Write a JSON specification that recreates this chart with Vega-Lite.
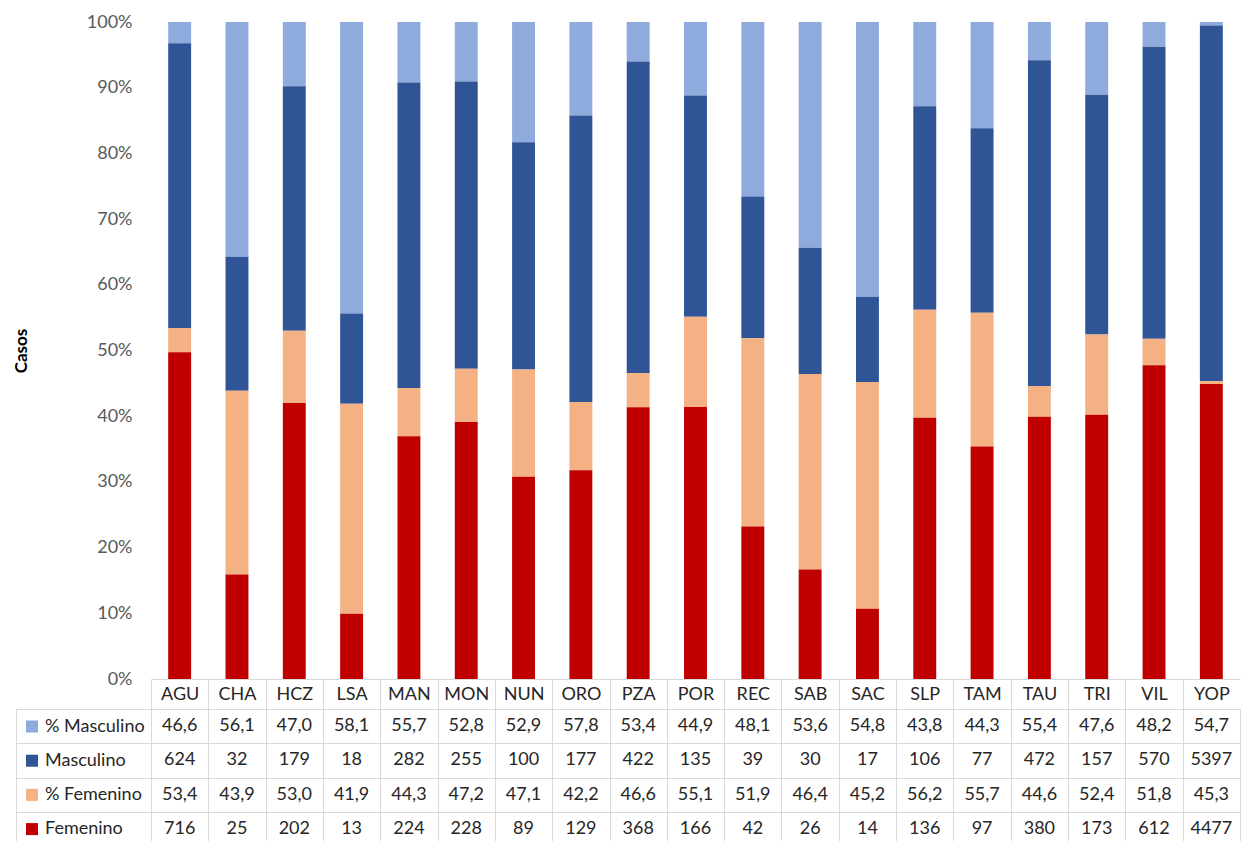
{
  "$schema": "https://vega.github.io/schema/vega-lite/v6.json",
  "background": "white",
  "padding": {"left": 12, "top": 13, "right": 0, "bottom": 0},
  "datasets": {
    "cases": [
      {"c": "AGU", "% Masculino": 46.6, "Masculino": 624, "% Femenino": 53.4, "Femenino": 716},
      {"c": "CHA", "% Masculino": 56.1, "Masculino": 32, "% Femenino": 43.9, "Femenino": 25},
      {"c": "HCZ", "% Masculino": 47.0, "Masculino": 179, "% Femenino": 53.0, "Femenino": 202},
      {"c": "LSA", "% Masculino": 58.1, "Masculino": 18, "% Femenino": 41.9, "Femenino": 13},
      {"c": "MAN", "% Masculino": 55.7, "Masculino": 282, "% Femenino": 44.3, "Femenino": 224},
      {"c": "MON", "% Masculino": 52.8, "Masculino": 255, "% Femenino": 47.2, "Femenino": 228},
      {"c": "NUN", "% Masculino": 52.9, "Masculino": 100, "% Femenino": 47.1, "Femenino": 89},
      {"c": "ORO", "% Masculino": 57.8, "Masculino": 177, "% Femenino": 42.2, "Femenino": 129},
      {"c": "PZA", "% Masculino": 53.4, "Masculino": 422, "% Femenino": 46.6, "Femenino": 368},
      {"c": "POR", "% Masculino": 44.9, "Masculino": 135, "% Femenino": 55.1, "Femenino": 166},
      {"c": "REC", "% Masculino": 48.1, "Masculino": 39, "% Femenino": 51.9, "Femenino": 42},
      {"c": "SAB", "% Masculino": 53.6, "Masculino": 30, "% Femenino": 46.4, "Femenino": 26},
      {"c": "SAC", "% Masculino": 54.8, "Masculino": 17, "% Femenino": 45.2, "Femenino": 14},
      {"c": "SLP", "% Masculino": 43.8, "Masculino": 106, "% Femenino": 56.2, "Femenino": 136},
      {"c": "TAM", "% Masculino": 44.3, "Masculino": 77, "% Femenino": 55.7, "Femenino": 97},
      {"c": "TAU", "% Masculino": 55.4, "Masculino": 472, "% Femenino": 44.6, "Femenino": 380},
      {"c": "TRI", "% Masculino": 47.6, "Masculino": 157, "% Femenino": 52.4, "Femenino": 173},
      {"c": "VIL", "% Masculino": 48.2, "Masculino": 570, "% Femenino": 51.8, "Femenino": 612},
      {"c": "YOP", "% Masculino": 54.7, "Masculino": 5397, "% Femenino": 45.3, "Femenino": 4477}
    ],
    "series": [
      {"s": "Femenino", "k": 1},
      {"s": "% Femenino", "k": 2},
      {"s": "Masculino", "k": 3},
      {"s": "% Masculino", "k": 4}
    ]
  },
  "data": {"name": "cases"},
  "transform": [
    {"fold": ["% Masculino", "Masculino", "% Femenino", "Femenino"], "as": ["s", "v"]},
    {"lookup": "s", "from": {"data": {"name": "series"}, "key": "s", "fields": ["k"]}}
  ],
  "bounds": "flush",
  "spacing": 30,
  "resolve": {"scale": {"x": "independent", "y": "independent", "color": "shared"}},
  "config": {
    "font": "Lato",
    "view": {"stroke": null},
    "locale": {"number": {"decimal": ",", "thousands": ".", "grouping": [3], "currency": ["", " €"]}}
  },
  "vconcat": [
    {
      "width": 1089,
      "height": 657,
      "mark": {"type": "bar"},
      "encoding": {
        "x": {
          "field": "c", "type": "nominal", "sort": null,
          "scale": {"paddingInner": 0.6, "paddingOuter": 0.3},
          "axis": {
            "title": null, "labelAngle": 0, "domainColor": "#d9d9d9", "tickColor": "#d9d9d9",
            "tickSize": 30, "tickOffset": -28.66, "labelOffset": 28.66, "labelPadding": -15,
            "labelBaseline": "middle", "labelFontSize": 18, "labelColor": "#262626"
          }
        },
        "y": {
          "field": "v", "type": "quantitative", "stack": "normalize",
          "axis": {
            "format": "%", "tickCount": 10, "grid": false, "domain": false, "ticks": false,
            "labelPadding": 19, "labelFontSize": 18, "labelColor": "#595959",
            "title": "Casos", "titleFontSize": 17, "titleFontWeight": "bold", "titleColor": "#000000", "titlePadding": 56
          }
        },
        "color": {
          "field": "s", "type": "nominal",
          "scale": {"domain": ["% Masculino", "Masculino", "% Femenino", "Femenino"], "range": ["#8faadc", "#2f5597", "#f4b183", "#c00000"]},
          "legend": {
            "title": null, "orient": "none", "legendX": -128, "legendY": 695.5, "direction": "vertical",
            "symbolType": "square", "symbolSize": 144, "symbolStrokeWidth": 0, "labelFontSize": 18,
            "labelColor": "#262626", "rowPadding": 16.2, "padding": 0, "labelOffset": 4
          }
        },
        "order": {"field": "k"}
      }
    },
    {
      "width": 1089,
      "height": 137,
      "encoding": {
        "x": {
          "field": "c", "type": "nominal", "sort": null,
          "scale": {"paddingInner": 0, "paddingOuter": 0},
          "axis": {"title": null, "labels": false, "ticks": false, "domain": false, "grid": true, "tickBand": "extent", "gridColor": "#d9d9d9"}
        },
        "y": {
          "field": "s", "type": "nominal",
          "scale": {"domain": ["% Masculino", "Masculino", "% Femenino", "Femenino"], "paddingInner": 0, "paddingOuter": 0},
          "axis": {"title": null, "labels": false, "offset": 135, "domainColor": "#d9d9d9", "tickColor": "#d9d9d9", "tickSize": -1224, "tickBand": "extent", "grid": false}
        }
      },
      "layer": [
        {
          "transform": [{"filter": "indexof(datum.s, '%') == 0"}],
          "mark": {"type": "text", "fontSize": 18, "color": "#262626"},
          "encoding": {"text": {"field": "v", "type": "quantitative", "format": ".1f"}}
        },
        {
          "transform": [{"filter": "indexof(datum.s, '%') != 0"}],
          "mark": {"type": "text", "fontSize": 18, "color": "#262626"},
          "encoding": {"text": {"field": "v", "type": "quantitative", "format": "d"}}
        }
      ]
    }
  ]
}
